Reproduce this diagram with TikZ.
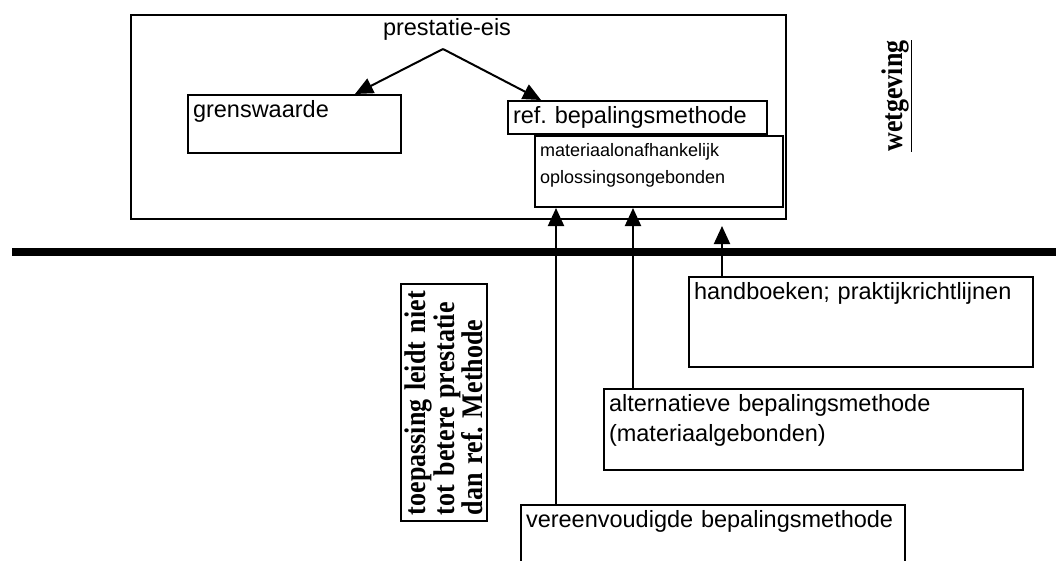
\documentclass[tikz,border=0pt]{standalone}
\usepackage{fontspec}
\setmainfont{Liberation Serif}
\setsansfont{Liberation Sans}
\usetikzlibrary{arrows.meta, positioning}
\frenchspacing

\begin{document}
\begin{tikzpicture}[x=1pt, y=-1pt,
    vak/.style={draw, line width=2pt, anchor=north west, align=left, inner sep=5pt, font=\sffamily\fontsize{23.5}{30}\selectfont, text height=17pt},
    pijl/.style={line width=2pt, -{Triangle[length=18pt, width=16pt]}},
    kop/.style={font=\bfseries\fontsize{26}{20}\selectfont, rotate=90, yscale=1.15}
]
    \useasboundingbox (0,0) rectangle (1056,560);

    % Wetgeving (boven de lijn)
    \node[draw, line width=2pt, anchor=north west, minimum width=655pt, minimum height=204pt, inner sep=0pt] (wet) at (130,14) {};
    \node[font=\sffamily\fontsize{23.5}{28}\selectfont] (eis) at (447,29) {prestatie-eis};
    \coordinate (top) at (443,49);
    \node[vak, text width=203pt, text depth=31pt] (grens) at (187,94) {grenswaarde};
    \node[vak, text width=249pt, text depth=6pt] (ref) at (507,100) {ref. bepalingsmethode};
    \node[vak, font=\sffamily\fontsize{18}{27}\selectfont, text height=15pt, text width=238pt, text depth=46pt] (mat) at (534,135) {materiaalonafhankelijk\\oplossingsongebonden};
    \draw[pijl] (top) -- ([xshift=168pt]grens.north west);
    \draw[pijl] (top) -- ([xshift=34pt]ref.north west);
    \node[kop] (wg) at (897,96) {\underline{wetgeving}};

    % De scheidingslijn
    \coordinate (lijnA) at (12,252);
    \coordinate (lijnB) at (1056,252);
    \draw[line width=8pt] (lijnA) -- (lijnB);

    % Onder de lijn
    \node[vak, text width=334pt, text depth=63pt] (hand) at (688,276) {handboeken; praktijkrichtlijnen};
    \node[vak, text width=409pt, text depth=54pt] (alt) at (603,388) {alternatieve bepalingsmethode\\(materiaalgebonden)};
    \node[vak, text width=374pt, text depth=70pt] (vereen) at (520,504) {vereenvoudigde bepalingsmethode};
    \node[kop, draw, line width=2pt, minimum width=237pt, minimum height=68pt, inner xsep=6pt, inner ysep=3pt, text width=225pt, align=left] (noot) at (444,402.5) {toepassing leidt niet\\tot betere prestatie\\dan ref. Methode};

    % Pijlen naar boven
    \coordinate (v) at ([xshift=36pt]vereen.north west);
    \coordinate (a) at ([xshift=30pt]alt.north west);
    \coordinate (h) at ([xshift=34pt]hand.north west);
    \draw[pijl] (v) -- (v |- mat.south);
    \draw[pijl] (a) -- (a |- mat.south);
    \draw[pijl] (h) -- ([yshift=-6pt]h |- wet.south);
\end{tikzpicture}
\end{document}
